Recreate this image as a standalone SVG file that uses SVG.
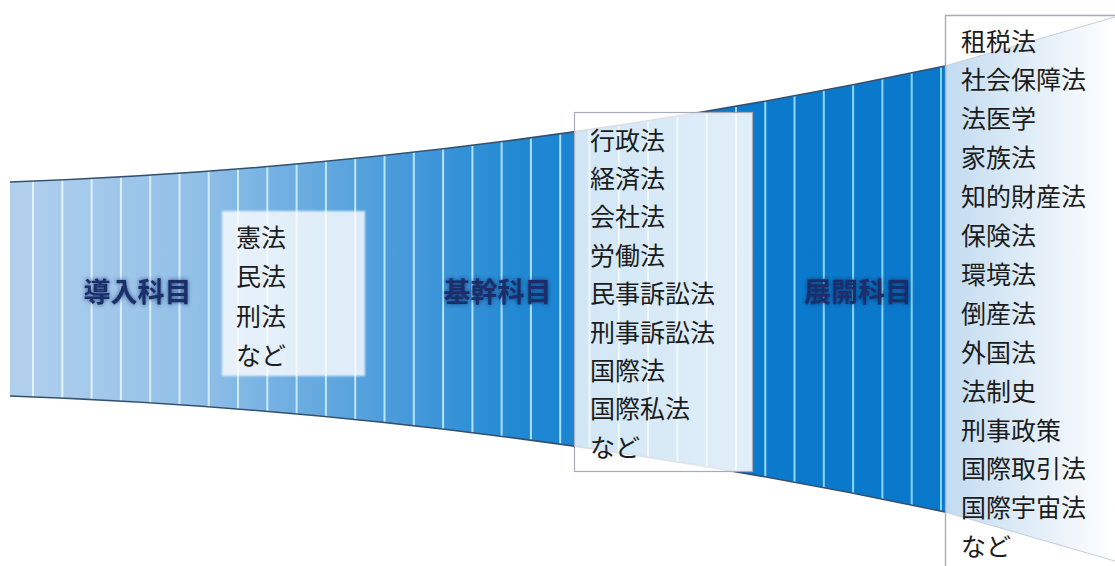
<svg xmlns="http://www.w3.org/2000/svg" width="1115" height="566" viewBox="0 0 1115 566">
  <style>
    .item { font-family: "Noto Sans CJK JP", "Noto Sans", sans-serif; font-size: 25px; fill: #1c1c1c; }
    .label { font-family: "Noto Sans CJK JP", "Noto Sans", sans-serif; font-size: 27px; font-weight: bold; fill: #1b2f6b; text-anchor: middle; filter: url(#glow); }
    .stripe { stroke: url(#stripeGrad); stroke-width: 2; }
    .edge { fill: none; stroke: #34506f; stroke-width: 1.6; }
  </style>
  <defs>
    <linearGradient id="funnelGrad" gradientUnits="userSpaceOnUse" x1="10" y1="0" x2="945" y2="0">
      <stop offset="0" stop-color="#b2d0ed"/>
      <stop offset="0.2" stop-color="#91c0e8"/>
      <stop offset="0.4" stop-color="#4d9ddc"/>
      <stop offset="0.55" stop-color="#2088d3"/>
      <stop offset="0.75" stop-color="#0d7bcd"/>
      <stop offset="1" stop-color="#0a78ca"/>
    </linearGradient>
    <linearGradient id="stripeGrad" gradientUnits="userSpaceOnUse" x1="10" y1="0" x2="945" y2="0">
      <stop offset="0" stop-color="#e8f4fc"/>
      <stop offset="0.5" stop-color="#b0e2f8"/>
      <stop offset="1" stop-color="#80d4f7"/>
    </linearGradient>
    <linearGradient id="extGrad" gradientUnits="userSpaceOnUse" x1="945" y1="0" x2="1115" y2="0">
      <stop offset="0" stop-color="#c2dbf0"/>
      <stop offset="1" stop-color="#ffffff"/>
    </linearGradient>
    <linearGradient id="midOverlay" gradientUnits="userSpaceOnUse" x1="573" y1="0" x2="753" y2="0">
      <stop offset="0" stop-color="#ffffff" stop-opacity="0.8"/>
      <stop offset="1" stop-color="#ffffff" stop-opacity="0.88"/>
    </linearGradient>
    <clipPath id="funnelClip">
      <path d="M10,182 Q477.5,165.4 945,66 L945,512 Q477.5,412.6 10,396 Z"/>
    </clipPath>
    <filter id="glow" x="-20%" y="-60%" width="140%" height="220%">
      <feGaussianBlur in="SourceAlpha" stdDeviation="2.2" result="blur"/>
      <feFlood flood-color="#0a2560" flood-opacity="0.75"/>
      <feComposite in2="blur" operator="in" result="shadow"/>
      <feMerge>
        <feMergeNode in="shadow"/>
        <feMergeNode in="SourceGraphic"/>
      </feMerge>
    </filter>
    <filter id="soft" x="-10%" y="-10%" width="120%" height="120%">
      <feGaussianBlur stdDeviation="0.8"/>
    </filter>
  </defs>

  <rect width="1115" height="566" fill="#ffffff"/>

  <g id="funnel">
    <path d="M10,182 Q477.5,165.4 945,66 L945,512 Q477.5,412.6 10,396 Z" fill="url(#funnelGrad)"/>
    <g clip-path="url(#funnelClip)">
      <line class="stripe" x1="33" y1="0" x2="33" y2="566"/>
      <line class="stripe" x1="62.3" y1="0" x2="62.3" y2="566"/>
      <line class="stripe" x1="91.6" y1="0" x2="91.6" y2="566"/>
      <line class="stripe" x1="120.9" y1="0" x2="120.9" y2="566"/>
      <line class="stripe" x1="150.2" y1="0" x2="150.2" y2="566"/>
      <line class="stripe" x1="179.5" y1="0" x2="179.5" y2="566"/>
      <line class="stripe" x1="208.7" y1="0" x2="208.7" y2="566"/>
      <line class="stripe" x1="238" y1="0" x2="238" y2="566"/>
      <line class="stripe" x1="267.3" y1="0" x2="267.3" y2="566"/>
      <line class="stripe" x1="296.6" y1="0" x2="296.6" y2="566"/>
      <line class="stripe" x1="325.9" y1="0" x2="325.9" y2="566"/>
      <line class="stripe" x1="355.2" y1="0" x2="355.2" y2="566"/>
      <line class="stripe" x1="384.5" y1="0" x2="384.5" y2="566"/>
      <line class="stripe" x1="413.8" y1="0" x2="413.8" y2="566"/>
      <line class="stripe" x1="443.1" y1="0" x2="443.1" y2="566"/>
      <line class="stripe" x1="472.4" y1="0" x2="472.4" y2="566"/>
      <line class="stripe" x1="501.6" y1="0" x2="501.6" y2="566"/>
      <line class="stripe" x1="530.9" y1="0" x2="530.9" y2="566"/>
      <line class="stripe" x1="560.2" y1="0" x2="560.2" y2="566"/>
      <line class="stripe" x1="589.5" y1="0" x2="589.5" y2="566"/>
      <line class="stripe" x1="618.8" y1="0" x2="618.8" y2="566"/>
      <line class="stripe" x1="648.1" y1="0" x2="648.1" y2="566"/>
      <line class="stripe" x1="677.4" y1="0" x2="677.4" y2="566"/>
      <line class="stripe" x1="706.7" y1="0" x2="706.7" y2="566"/>
      <line class="stripe" x1="736" y1="0" x2="736" y2="566"/>
      <line class="stripe" x1="765.3" y1="0" x2="765.3" y2="566"/>
      <line class="stripe" x1="794.5" y1="0" x2="794.5" y2="566"/>
      <line class="stripe" x1="823.8" y1="0" x2="823.8" y2="566"/>
      <line class="stripe" x1="853.1" y1="0" x2="853.1" y2="566"/>
      <line class="stripe" x1="882.4" y1="0" x2="882.4" y2="566"/>
      <line class="stripe" x1="911.7" y1="0" x2="911.7" y2="566"/>
      <line class="stripe" x1="941" y1="0" x2="941" y2="566"/>
    </g>
    <path class="edge" d="M10,182 Q477.5,165.4 945,66"/>
    <path class="edge" d="M10,396 Q477.5,412.6 945,512"/>
  </g>

  <g id="intro-box">
    <rect x="222" y="211" width="143" height="165" fill="#ffffff" fill-opacity="0.8" filter="url(#soft)"/>
    <text class="item" x="236" y="246.5">憲法</text>
    <text class="item" x="236" y="286">民法</text>
    <text class="item" x="236" y="325.5">刑法</text>
    <text class="item" x="236" y="365">など</text>
  </g>

  <g id="core-box">
    <rect x="574.5" y="112.5" width="178" height="359" fill="url(#midOverlay)" stroke="#a9abbb" stroke-width="1.2"/>
    <text class="item" x="590" y="149.5">行政法</text>
    <text class="item" x="590" y="187.9">経済法</text>
    <text class="item" x="590" y="226.3">会社法</text>
    <text class="item" x="590" y="264.7">労働法</text>
    <text class="item" x="590" y="303.1">民事訴訟法</text>
    <text class="item" x="590" y="341.5">刑事訴訟法</text>
    <text class="item" x="590" y="379.9">国際法</text>
    <text class="item" x="590" y="418.3">国際私法</text>
    <text class="item" x="590" y="456.7">など</text>
  </g>

  <g id="advanced-box">
    <rect x="945.5" y="15.5" width="175" height="560" fill="#ffffff"/>
    <path d="M945,66 L1115,17 L1115,561 L945,512 Z" fill="url(#extGrad)"/>
    <path d="M945,66 L1115,17 M945,512 L1115,561" fill="none" stroke="#c3cddb" stroke-width="1"/>
    <path d="M945.5,566 L945.5,15.5 L1115,15.5" fill="none" stroke="#a9abbb" stroke-width="1.4"/>
    <text class="item" x="961" y="50.5">租税法</text>
    <text class="item" x="961" y="89.4">社会保障法</text>
    <text class="item" x="961" y="128.3">法医学</text>
    <text class="item" x="961" y="167.2">家族法</text>
    <text class="item" x="961" y="206.1">知的財産法</text>
    <text class="item" x="961" y="245">保険法</text>
    <text class="item" x="961" y="283.9">環境法</text>
    <text class="item" x="961" y="322.8">倒産法</text>
    <text class="item" x="961" y="361.7">外国法</text>
    <text class="item" x="961" y="400.6">法制史</text>
    <text class="item" x="961" y="439.5">刑事政策</text>
    <text class="item" x="961" y="478.4">国際取引法</text>
    <text class="item" x="961" y="517.3">国際宇宙法</text>
    <text class="item" x="961" y="556.2">など</text>
  </g>

  <g id="labels">
    <text class="label" x="137.5" y="302">導入科目</text>
    <text class="label" x="497.5" y="302">基幹科目</text>
    <text class="label" x="858" y="302">展開科目</text>
  </g>
</svg>
